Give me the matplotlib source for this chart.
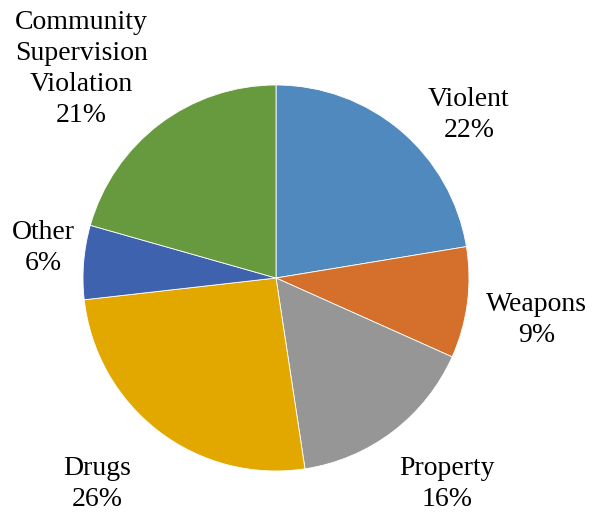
import matplotlib
matplotlib.use("Agg")
import matplotlib.pyplot as plt

categories = ["Violent", "Weapons", "Property", "Drugs", "Other", "Community\nSupervision\nViolation"]
values = [22.4, 9.3, 15.9, 25.6, 6.2, 20.6]
colors = ["#4F89BE", "#D5702C", "#969696", "#E2A800", "#3F62AE", "#679A3F"]
# label block centres in pie-radius units
label_pos = [(1.0, 0.845), (1.352, -0.218), (0.886, -1.067), (-0.927, -1.067),
             (-1.207, 0.155), (-1.008, 1.083)]

plt.rcParams['font.family'] = ['Liberation Serif', 'DejaVu Serif']

W, H = 592, 514
cx, cy, r = 276, 278, 193
fig = plt.figure(figsize=(W/100, H/100), dpi=100)
ax = fig.add_axes([(cx - r)/W, (H - cy - r)/H, 2*r/W, 2*r/H])
ax.pie(values, colors=colors, startangle=90, counterclock=False, radius=1,
       wedgeprops=dict(linewidth=0.6, edgecolor='white'))
ax.set_xlim(-1, 1)
ax.set_ylim(-1, 1)
ax.set_aspect('equal')
ax.axis('off')

for cat, v, (x, y) in zip(categories, values, label_pos):
    ax.text(x, y, f"{cat}\n{round(v):d}%", ha='center', va='center', fontsize=20,
            linespacing=1.3, color='black', clip_on=False)

fig.savefig("out.png", dpi=100)
